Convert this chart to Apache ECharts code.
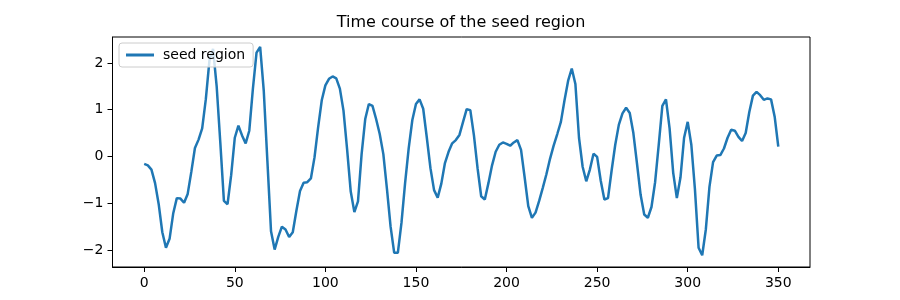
<!DOCTYPE html>
<html>
<head>
<meta charset="utf-8">
<script src="https://cdn.jsdelivr.net/npm/echarts@6/dist/echarts.min.js"></script>
<style>
  html, body { margin: 0; padding: 0; background: #ffffff; }
  #chart { width: 900px; height: 300px; }
</style>
</head>
<body>
<div id="chart"></div>
<script>
const titleText = "Time course of the seed region";
const seriesName = "seed region";
const sampleStep = 2;
const signal = [
  -0.16, -0.19, -0.28, -0.57, -1.02, -1.62, -1.95, -1.76, -1.22, -0.89,
  -0.90, -0.99, -0.80, -0.33, 0.18, 0.36, 0.60, 1.22, 2.05, 2.30,
  1.50, 0.30, -0.95, -1.02, -0.40, 0.40, 0.66, 0.45, 0.28, 0.55,
  1.45, 2.22, 2.34, 1.40, -0.10, -1.60, -1.99, -1.72, -1.50, -1.56,
  -1.72, -1.62, -1.16, -0.74, -0.56, -0.55, -0.47, -0.02, 0.62, 1.20,
  1.52, 1.66, 1.71, 1.67, 1.45, 0.98, 0.15, -0.75, -1.19, -0.96,
  0.05, 0.80, 1.12, 1.08, 0.80, 0.48, 0.05, -0.70, -1.50, -2.06,
  -2.06, -1.42, -0.57, 0.18, 0.78, 1.12, 1.22, 1.02, 0.40, -0.25,
  -0.72, -0.88, -0.58, -0.14, 0.10, 0.28, 0.35, 0.46, 0.74, 1.01,
  0.99, 0.45, -0.25, -0.85, -0.92, -0.57, -0.19, 0.10, 0.25, 0.30,
  0.27, 0.23, 0.30, 0.35, 0.14, -0.45, -1.06, -1.31, -1.20, -0.95,
  -0.67, -0.38, -0.05, 0.23, 0.48, 0.74, 1.20, 1.62, 1.88, 1.55,
  0.40, -0.22, -0.53, -0.28, 0.06, -0.01, -0.52, -0.92, -0.89, -0.30,
  0.25, 0.68, 0.92, 1.04, 0.93, 0.50, -0.15, -0.82, -1.24, -1.31,
  -1.08, -0.55, 0.25, 1.08, 1.22, 0.60, -0.35, -0.89, -0.45, 0.40,
  0.74, 0.25, -0.71, -1.95, -2.11, -1.56, -0.65, -0.12, 0.02, 0.03,
  0.17, 0.40, 0.57, 0.55, 0.42, 0.33, 0.50, 0.95, 1.30, 1.38,
  1.31, 1.21, 1.24, 1.22, 0.85, 0.21
];
const xTicks = [0, 50, 100, 150, 200, 250, 300, 350];
const yTicks = [-2, -1, 0, 1, 2];

const times = signal.map((_, i) => i * sampleStep);
const points = times.map((t, i) => [t, signal[i]]);

const font = "DejaVu Sans";
const chart = echarts.init(document.getElementById('chart'), null, { renderer: 'canvas' });

chart.setOption({
  animation: false,
  backgroundColor: '#ffffff',
  graphic: [{
    type: 'text',
    x: 461, y: 23,
    style: {
      text: titleText,
      fontFamily: font,
      fontSize: 16,
      fill: '#000000',
      textAlign: 'center',
      textVerticalAlign: 'middle'
    }
  }],
  legend: {
    left: 119, top: 43,
    orient: 'vertical',
    padding: [4, 8, 4, 7],
    itemWidth: 28, itemHeight: 3,
    icon: 'rect',
    backgroundColor: 'rgba(255,255,255,0.8)',
    borderColor: '#cccccc',
    borderWidth: 1,
    borderRadius: 3,
    textStyle: { fontFamily: font, fontSize: 14, color: '#000000', padding: [0, 0, 0, 4], lineHeight: 16 },
    data: [seriesName]
  },
  grid: {
    left: 112.5, right: 90, top: 37, bottom: 33,
    show: true, borderColor: '#000000', borderWidth: 1,
    backgroundColor: 'transparent',
    containLabel: false,
    outerBoundsMode: 'none'
  },
  xAxis: {
    type: 'value',
    min: -17.5, max: 367.5,
    axisLine: { show: true, onZero: false, lineStyle: { color: '#000000', width: 1 } },
    axisTick: { show: true, length: 5, lineStyle: { color: '#000000', width: 1 }, customValues: xTicks },
    axisLabel: { show: true, margin: 9, fontFamily: font, fontSize: 14, color: '#000000', customValues: xTicks },
    splitLine: { show: false }
  },
  yAxis: {
    type: 'value',
    min: -2.362, max: 2.553,
    axisLine: { show: true, onZero: false, lineStyle: { color: '#000000', width: 1 } },
    axisTick: { show: true, length: 5, lineStyle: { color: '#000000', width: 1 }, customValues: yTicks },
    axisLabel: {
      show: true, margin: 9, fontFamily: font, fontSize: 14, color: '#000000',
      customValues: yTicks,
      formatter: v => String(v).replace('-', '\u2212')
    },
    splitLine: { show: false }
  },
  series: [{
    name: seriesName,
    type: 'line',
    data: points,
    showSymbol: false,
    smooth: false,
    lineStyle: { color: '#1f77b4', width: 2.5 },
    itemStyle: { color: '#1f77b4' },
    z: 3
  }]
});
</script>
</body>
</html>
